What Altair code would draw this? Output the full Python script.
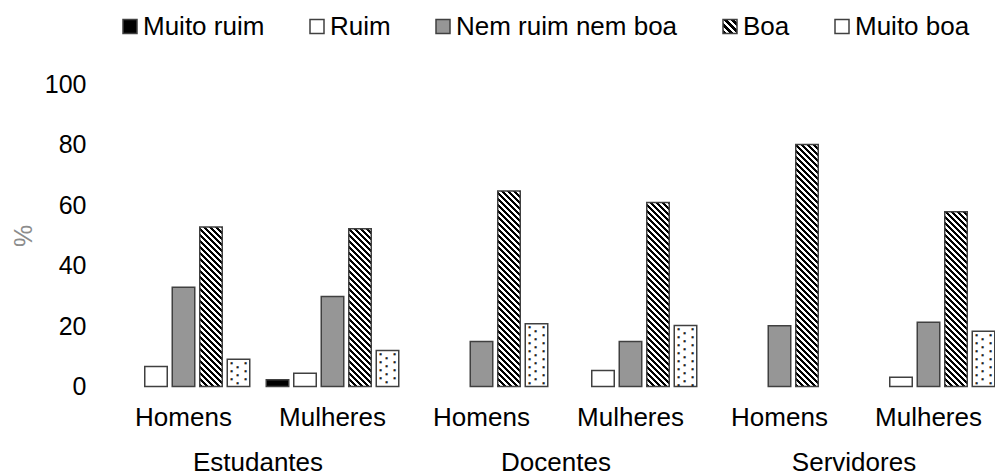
import json
import altair as alt
import pandas as pd

# ---------------- data ----------------
grupos = ["Estudantes", "Docentes", "Servidores"]
sexos = ["Homens", "Mulheres"]
categorias = ["Muito ruim", "Ruim", "Nem ruim nem boa", "Boa", "Muito boa"]

# values in %, order: Est-H, Est-M, Doc-H, Doc-M, Serv-H, Serv-M
muito_ruim = [0, 2.2, 0, 0, 0, 0]
ruim = [6.6, 4.4, 0, 5.3, 0, 3.1]
nem_ruim_nem_boa = [32.9, 29.8, 14.9, 14.9, 20.1, 21.3]
boa = [52.8, 52.2, 64.7, 60.9, 80.1, 57.9]
muito_boa = [9.0, 11.9, 20.8, 20.2, 0, 18.3]

series = [muito_ruim, ruim, nem_ruim_nem_boa, boa, muito_boa]
keys = [f"{g}|{s}" for g in grupos for s in sexos]

rows = []
for i, key in enumerate(keys):
    g, s = key.split("|")
    for cat, vals in zip(categorias, series):
        rows.append({"grupo": g, "sexo": s, "key": key, "cat": cat, "v": vals[i]})
df = pd.DataFrame(rows)

# ---------------- layout ----------------
W = 886          # plot width (svg must stay inside the page)
XR = 894         # extent of the band range (last empty band margin may overflow)
H = 302          # plot height
PX = H / 100.0   # pixels per %
BAND = XR / len(keys)
SUB_STEP = 27.5
PI = 5.0 / SUB_STEP
PO = (BAND / SUB_STEP - 5 + PI) / 2
BAR_W = SUB_STEP * (1 - PI)
FONT = "Liberation Sans"
FS = 26
FSY = 25


def stripes(h, w=BAR_W, period=6.0, frac=0.52):
    L = w + h
    n = L / period
    stops = []
    i = 0
    while i / n < 1:
        a = round(i / n, 4)
        b = round(min((i + frac) / n, 1), 4)
        c = round(min((i + 1) / n, 1), 4)
        stops += [
            {"offset": a, "color": "#000000"},
            {"offset": b, "color": "#000000"},
            {"offset": b, "color": "#ffffff"},
            {"offset": c, "color": "#ffffff"},
        ]
        i += 1
    d = w * w + h * h
    return {
        "gradient": "linear",
        "x1": 0, "y1": 1,
        "x2": round(w * L / d, 5), "y2": round(1 - h * L / d, 5),
        "stops": stops,
    }


# per-bar striped fill for "Boa"
conds = []
for i, key in enumerate(keys):
    conds.append({
        "test": f"datum.key === '{key}' && datum.cat === 'Boa'",
        "value": stripes(boa[i] * PX),
    })

legend_grad = stripes(14, w=14, period=7.0)
legend_grad["x2"] = 1
legend_grad["y2"] = 0

fill_scale = alt.Scale(
    domain=categorias,
    range=["#000000", "#ffffff", "#969696",
           alt.ExprRef(expr=json.dumps(legend_grad)), "#ffffff"],
)

x_scale = alt.Scale(domain=keys, range=[0, XR], paddingInner=0, paddingOuter=0)
xo_scale = alt.Scale(domain=categorias, paddingInner=PI, paddingOuter=PO)
y_scale = alt.Scale(domain=[0, 100])

x_axis = alt.Axis(labelExpr="split(datum.label, '|')[1]", labelAngle=0,
                  labelFontSize=FS, labelColor="#000000", labelFont=FONT,
                  domain=False, ticks=False, tickSize=0, labelPadding=31,
                  labelBaseline="middle", labelLimit=300)
y_axis = alt.Axis(values=[0, 20, 40, 60, 80, 100], grid=False, domain=False,
                  ticks=False, tickSize=0, labelPadding=23,
                  labelFontSize=FSY, labelColor="#000000", labelFont=FONT,
                  titleColor="#8c8c8c", titleFontSize=FSY, titleFontWeight="normal",
                  titleFont=FONT, titleX=-86, titleY=H / 2,
                  titleBaseline="middle", titleAlign="center")

base = alt.Chart(df)

bars = base.transform_filter("datum.v > 0").mark_bar(
    stroke="#404040", strokeWidth=1.5
).encode(
    x=alt.X("key:N", scale=x_scale, title=None, axis=x_axis),
    xOffset=alt.XOffset("cat:N", scale=xo_scale),
    y=alt.Y("v:Q", scale=y_scale, title="%", axis=y_axis),
    fill=alt.Fill(
        "cat:N", scale=fill_scale, condition=conds,
        legend=alt.Legend(
            orient="none", legendX=8, legendY=-71, direction="horizontal",
            columns=5, title=None, symbolType="square", symbolSize=196,
            symbolStrokeColor="#404040", symbolStrokeWidth=1.5,
            labelFontSize=FS, labelFont=FONT, labelColor="#000000",
            labelOffset=0, columnPadding=39, padding=0, labelLimit=400,
        ),
    ),
)

# dotted texture for "Muito boa"
dots_base = base.transform_filter(
    "datum.cat === 'Muito boa' && datum.v > 0"
).transform_calculate(
    n=f"floor((datum.v * {PX} - 5) / 4) + 1"
).transform_calculate(
    seq="sequence(0, datum.n)"
).transform_flatten(["seq"]).transform_calculate(
    ydot=f"datum.v - (3 + 4 * datum.seq) / {PX}",
    par="datum.seq % 2",
)


def dot_layer(parity, dx):
    return dots_base.transform_filter(f"datum.par === {parity}").mark_text(
        text="■", fontSize=2.8, color="#222222", dx=dx, baseline="middle",
        align="center", font="DejaVu Sans"
    ).encode(
        x=alt.X("key:N", scale=x_scale, title=None, axis=x_axis),
        xOffset=alt.XOffset("cat:N", scale=xo_scale),
        y=alt.Y("ydot:Q", scale=y_scale, title="%", axis=y_axis),
    )


inner = alt.layer(bars, dot_layer(0, 7), dot_layer(1, -1), dot_layer(0, -7))

group_text = alt.Chart(pd.DataFrame({"grupo": grupos})).mark_text(
    fontSize=FS, font=FONT, color="#000000", baseline="middle"
).encode(
    x=alt.X("grupo:N", scale=alt.Scale(domain=grupos, range=[0, XR],
                                       paddingInner=0, paddingOuter=0),
            axis=None),
    y=alt.value(H + 76),
    text="grupo:N",
)

chart = alt.layer(inner, group_text).resolve_scale(x="independent").properties(
    width=W, height=H,
    autosize=alt.AutoSizeParams(type="none"),
    padding={"left": 101, "top": 76.5, "right": 0, "bottom": 93},
).configure(font=FONT).configure_view(stroke=None)

chart.save("out.html", embed_options={"renderer": "svg", "actions": False})
